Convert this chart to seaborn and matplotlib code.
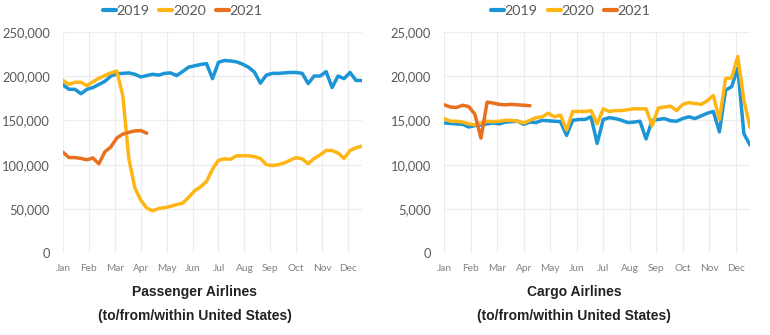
import numpy as np
import pandas as pd
import matplotlib
matplotlib.use("Agg")
import matplotlib.pyplot as plt
from matplotlib.ticker import FuncFormatter, FixedLocator
from matplotlib.lines import Line2D
import seaborn as sns

# ---------------- data (weekly, values in thousands) ----------------
months = ["Jan", "Feb", "Mar", "Apr", "May", "Jun", "Jul", "Aug", "Sep", "Oct", "Nov", "Dec"]
years = ["2019", "2020", "2021"]

passenger_2019_k = [190, 185, 185, 180, 185, 187, 190.5, 194, 200, 202.5,
                    203, 203.5, 202, 199, 200.5, 202, 201, 203, 203.5, 200.5,
                    205, 210, 211.5, 213, 214, 197, 215.5, 217.5, 217, 216,
                    213.5, 210, 204.5, 192, 201, 203, 203, 203.5, 204, 204,
                    203, 191.5, 200, 200, 205, 187, 200, 197, 204, 195, 195]
passenger_2020_k = [195, 190.5, 193, 193, 189, 193.5, 197.5, 200.5, 203.5, 205.5,
                    178, 107, 74, 60, 51, 48, 50.5, 51.5, 53, 55,
                    56.5, 63, 70.5, 75, 81, 95, 105, 106.5, 106, 110,
                    110, 110, 109, 107, 100, 99, 100, 102, 105, 108,
                    106.5, 101, 107, 111, 116, 116, 113, 107, 116, 119, 121]
passenger_2021_k = [114, 108, 108, 107, 105.5, 107.5, 101, 114.5, 120, 130,
                    134.5, 136.5, 138, 138.5, 135.5]

cargo_2019_k = [14.7, 14.65, 14.6, 14.55, 14.25, 14.4, 14.5, 14.6, 14.7, 14.6,
                14.8, 14.85, 14.9, 14.55, 14.8, 14.75, 15.0, 14.95, 14.9, 14.85,
                13.3, 15.0, 15.1, 15.1, 15.4, 12.4, 15.1, 15.3, 15.2, 15.0,
                14.75, 14.8, 14.9, 12.9, 15.0, 15.1, 15.2, 14.95, 14.9, 15.2,
                15.4, 15.2, 15.5, 15.8, 16.0, 13.7, 18.4, 18.8, 20.9, 13.5, 12.2]
cargo_2020_k = [15.2, 14.9, 14.9, 14.8, 14.6, 14.5, 14.7, 14.9, 14.85, 14.9,
                15.0, 15.0, 14.9, 14.7, 15.0, 15.3, 15.4, 15.8, 15.4, 15.6,
                13.9, 16.0, 16.0, 16.0, 16.1, 14.6, 16.3, 16.0, 16.1, 16.1,
                16.2, 16.3, 16.3, 16.3, 14.4, 16.4, 16.5, 16.6, 16.1, 16.8,
                17.0, 16.9, 16.8, 17.2, 17.8, 15.1, 19.7, 19.8, 22.2, 17.3, 14.2]
cargo_2021_k = [16.75, 16.5, 16.45, 16.7, 16.55, 15.7, 13.0, 17.05, 16.95, 16.8,
                16.75, 16.8, 16.75, 16.7, 16.65]

passenger_ticks = [0, 50000, 100000, 150000, 200000, 250000]
cargo_ticks = [0, 5000, 10000, 15000, 20000, 25000]

colors = {"2019": "#1B95D5", "2020": "#FFB614", "2021": "#E8701E"}


def to_long(series_by_year):
    rows = []
    for yr, vals in series_by_year.items():
        for i, v in enumerate(vals):
            rows.append({"week": i, "month_pos": i * 12 / 52, "value": v * 1000, "year": yr})
    return pd.DataFrame(rows)


pass_df = to_long({"2019": passenger_2019_k, "2020": passenger_2020_k, "2021": passenger_2021_k})
cargo_df = to_long({"2019": cargo_2019_k, "2020": cargo_2020_k, "2021": cargo_2021_k})

# ---------------- figure ----------------
sns.set_style("white")
plt.rcParams["font.family"] = ["Lato", "DejaVu Sans"]

fig = plt.figure(figsize=(7.7, 3.35), dpi=100)
ax1 = fig.add_axes([63 / 770, 1 - 253.3 / 335, 299 / 770, 221.6 / 335])
ax2 = fig.add_axes([444.3 / 770, 1 - 253.3 / 335, 305.7 / 770, 221.6 / 335])

panels = [
    (ax1, pass_df, passenger_ticks, "Passenger Airlines", 0.40, 0.44),
    (ax2, cargo_df, cargo_ticks, "Cargo Airlines", 0.414, 0.425),
]

for ax, df, yticks, title, legx, titx in panels:
    sns.lineplot(data=df, x="month_pos", y="value", hue="year", hue_order=years,
                 palette=colors, linewidth=2.5, sort=False, legend=False, ax=ax)
    ax.set_xlim(0, 50 * 12 / 52)
    ax.set_ylim(yticks[0], yticks[-1])
    ax.yaxis.set_major_locator(FixedLocator(yticks))
    ax.yaxis.set_major_formatter(FuncFormatter(lambda v, p: f"{int(v):,}"))
    ax.set_xticks(range(12))
    ax.set_xticklabels(months)
    ax.grid(True, color="#ECECEC", linewidth=0.8)
    ax.set_axisbelow(True)
    for s in ax.spines.values():
        s.set_visible(False)
    ax.tick_params(axis="y", length=0, labelsize=9.3, labelcolor="#595959", pad=9.5)
    ax.tick_params(axis="x", length=0, labelsize=7.3, labelcolor="#808080", pad=8)
    ax.set_xlabel("")
    ax.set_ylabel("")
    handles = [Line2D([0], [0], color=colors[y], lw=3) for y in years]
    ax.legend(handles, years, loc="center", bbox_to_anchor=(legx, 1.095),
              ncol=3, frameon=False, fontsize=10.3, handlelength=0.9,
              handletextpad=0.05, columnspacing=0.7, labelcolor="#595959")
    ax.text(titx, -0.175, title, transform=ax.transAxes,
            ha="center", va="center", fontsize=10, fontweight="bold",
            family=["Liberation Sans", "DejaVu Sans"], color="#222222")
    ax.text(titx, -0.285, "(to/from/within United States)",
            transform=ax.transAxes, ha="center", va="center", fontsize=10,
            fontweight="bold", family=["Liberation Sans", "DejaVu Sans"], color="#222222")

fig.savefig("out.png", dpi=100, facecolor="white")
